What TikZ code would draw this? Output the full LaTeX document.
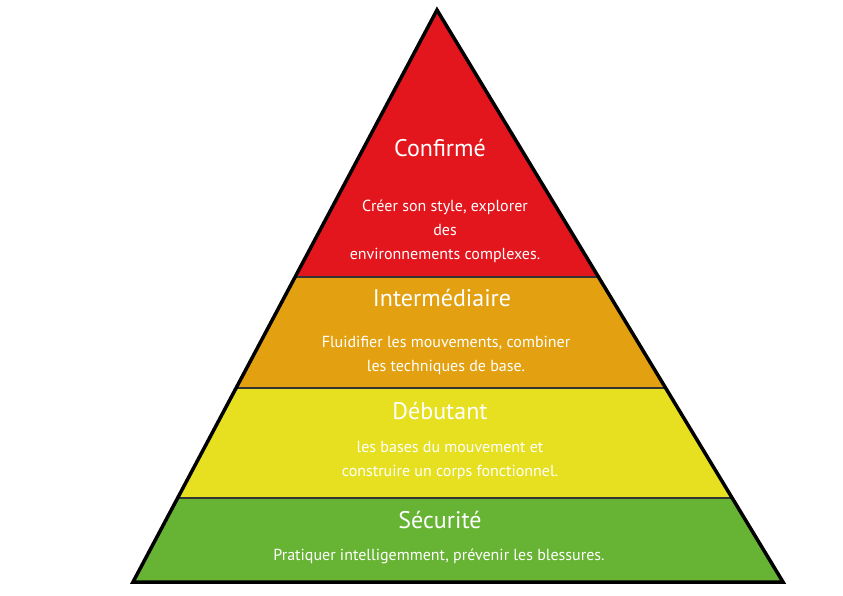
\documentclass[tikz,border=0pt]{standalone}
\usepackage{fontspec}
\setmainfont{PT Sans}
\begin{document}
\begin{tikzpicture}[x=1pt,y=-1pt,
  title/.style={text=white,font=\fontsize{24}{28}\selectfont},
  body/.style={text=white,font=\fontsize{16}{24}\selectfont,align=center},
  band/.style={draw=black!80,line width=1.5pt}]
\useasboundingbox (0,0) rectangle (843,596);
\definecolor{cred}{HTML}{E3161E}
\definecolor{corange}{HTML}{E3A111}
\definecolor{cyellow}{HTML}{E6E021}
\definecolor{cgreen}{HTML}{67B334}
\coordinate (A) at (437,10);
\coordinate (BL) at (133,582);
\coordinate (BR) at (783,582);
\fill[cred] (A) -- (295.1,277) -- (598.5,277) -- cycle;
\fill[corange] (295.1,277) -- (236.1,388) -- (665.7,388) -- (598.5,277) -- cycle;
\fill[cyellow] (236.1,388) -- (177.6,498) -- (732.2,498) -- (665.7,388) -- cycle;
\fill[cgreen] (177.6,498) -- (BL) -- (BR) -- (732.2,498) -- cycle;
\draw[band] (295.1,277) -- (598.5,277);
\draw[band] (236.1,388) -- (665.7,388);
\draw[band] (177.6,498) -- (732.2,498);
\draw[line width=3.5pt,line join=miter] (A) -- (BL) -- (BR) -- cycle;
\node[title] (t1) at (440,148) {Confirmé};
\node[body] (b1) at (445,231) {Créer son style, explorer\\des\\environnements complexes.};
\node[title] (t2) at (442,298) {Intermédiaire};
\node[body] (b2) at (446,355) {Fluidifier les mouvements, combiner\\les techniques de base.};
\node[title] (t3) at (440,411) {Débutant};
\node[body] (b3) at (450,460) {les bases du mouvement et\\construire un corps fonctionnel.};
\node[title] (t4) at (440,520) {Sécurité};
\node[body] (b4) at (439,556) {Pratiquer intelligemment, prévenir les blessures.};
\end{tikzpicture}
\end{document}
